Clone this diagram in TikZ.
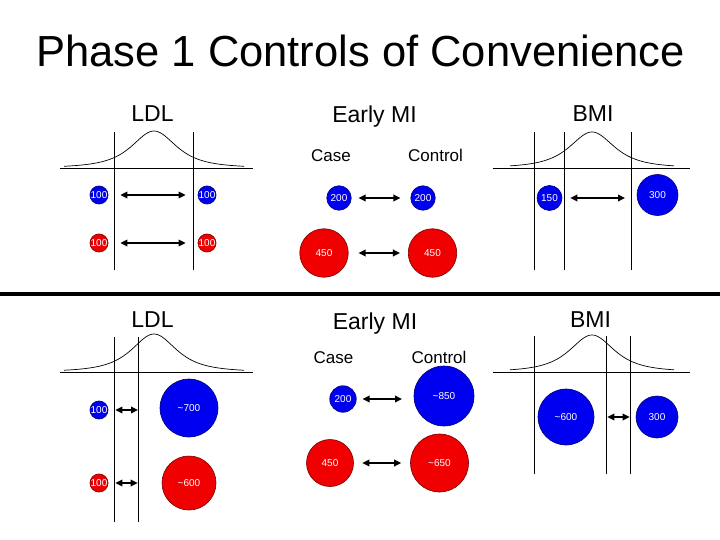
\documentclass[tikz,border=0pt]{standalone}
\usepackage{fontspec}
\setmainfont{Liberation Sans}
\usetikzlibrary{arrows.meta}
\definecolor{cblue}{RGB}{0,0,240}
\definecolor{cred}{RGB}{240,0,0}
\begin{document}
\begin{tikzpicture}[x=1pt,y=-1pt,
  bdot/.style={circle, draw=cblue!50!black, fill=cblue, line width=0.6pt, inner sep=0pt, minimum size=#1, text=white, font=\fontsize{10}{12}\selectfont},
  rdot/.style={circle, draw=cred!50!black, fill=cred, line width=0.6pt, inner sep=0pt, minimum size=#1, text=white, font=\fontsize{10}{12}\selectfont},
  dbl/.style={line width=1.8pt, {Triangle[length=7pt,width=6.5pt]}-{Triangle[length=7pt,width=6.5pt]}},
  guide/.style={line width=0.8pt},
  curve/.style={line width=0.7pt},
  ttl/.style={anchor=base, font=\fontsize{43.5}{50}\selectfont},
  hdr/.style={anchor=base, font=\fontsize{23}{28}\selectfont},
  sub/.style={anchor=base, font=\fontsize{17}{20}\selectfont}]
\useasboundingbox (0,0) rectangle (720,540);
\fill[white] (0,0) rectangle (720,540);

% title
\node[ttl] (title) at (360.5,67) {Phase 1 Controls of Convenience};

% separator
\draw[line width=4.3pt] (0,294) -- (720,294);

% ---------- top row ----------
\node[hdr] (hTL) at (152.5,122) {LDL};
\node[hdr] (hTM) at (374.5,123) {Early MI};
\node[hdr] (hTR) at (593,122) {BMI};
\node[sub] (sTMa) at (331,162) {Case};
\node[sub] (sTMb) at (435.5,162) {Control};

% top LDL curve
\draw[guide] (60,168) -- (253,168);
\draw[curve] plot[domain=-90:90, samples=91] ({154+\x},{168-37/(1+(\x/34.6)^2)^1.5});
\draw[guide] (114,132) -- (114,270);
\draw[guide] (193,132) -- (193,270);

% top BMI curve
\draw[guide] (493,168) -- (690,168);
\draw[curve] plot[domain=-82:82, samples=91] ({592+\x},{168-36/(1+(\x/34.6)^2)^1.5});
\draw[guide] (534,132) -- (534,270);
\draw[guide] (564,132) -- (564,270);
\draw[guide] (631,132) -- (631,270);

% top LDL dots
\node[bdot=18pt] (tl1) at (99,195) {100};
\node[bdot=18pt] (tl2) at (207,195) {100};
\node[rdot=18pt] (tl3) at (99,243) {100};
\node[rdot=18pt] (tl4) at (207,243) {100};
\draw[dbl, shorten <=12pt, shorten >=12pt] (tl1) -- (tl2);
\draw[dbl, shorten <=12pt, shorten >=12pt] (tl3) -- (tl4);

% top Early MI dots
\node[bdot=24.5pt] (tm1) at (339,198) {200};
\node[bdot=24.5pt] (tm2) at (423,198) {200};
\node[rdot=48.5pt] (tm3) at (324,253) {450};
\node[rdot=48.5pt] (tm4) at (432.5,253) {450};
\draw[dbl, shorten <=7pt, shorten >=10pt] (tm1) -- (tm2);
\draw[dbl, shorten <=10pt, shorten >=8pt] (tm3) -- (tm4);

% top BMI dots
\node[bdot=25pt] (tr1) at (549.5,198) {150};
\node[bdot=41pt] (tr2) at (657.5,195) {300};
\draw[dbl, shorten <=8pt, shorten >=32.5pt] (tr1) -- (tr1 -| tr2);

% ---------- bottom row ----------
\node[hdr] (hBL) at (152.5,327) {LDL};
\node[hdr] (hBM) at (375,329) {Early MI};
\node[hdr] (hBR) at (590.5,327) {BMI};
\node[sub] (sBMa) at (333.5,363) {Case};
\node[sub] (sBMb) at (439,363) {Control};

% bottom LDL curve
\draw[guide] (60,372) -- (253,372);
\draw[curve] plot[domain=-90:90, samples=91] ({154+\x},{372-38/(1+(\x/34.6)^2)^1.5});
\draw[guide] (114,337) -- (114,522);
\draw[guide] (138,337) -- (138,522);

% bottom BMI curve
\draw[guide] (493,372) -- (690,372);
\draw[curve] plot[domain=-82:82, samples=91] ({592+\x},{372-37/(1+(\x/34.6)^2)^1.5});
\draw[guide] (534,336) -- (534,474);
\draw[guide] (606,336) -- (606,474);
\draw[guide] (630,336) -- (630,474);

% bottom LDL dots
\node[bdot=18pt] (bl1) at (99,410) {100};
\node[bdot=58pt] (bl2) at (189,408) {\char"7E 700};
\node[rdot=18pt] (bl3) at (99,483) {100};
\node[rdot=54pt] (bl4) at (189,483) {\char"7E 600};
\draw[dbl, shorten <=7pt, shorten >=51pt] (bl1) -- (bl1 -| bl2);
\draw[dbl, shorten <=7pt, shorten >=24pt] (bl3) -- (bl4);

% bottom Early MI dots
\node[bdot=26.5pt] (bm1) at (343,399) {200};
\node[bdot=60pt] (bm2) at (444,396) {\char"7E 850};
\node[rdot=47pt] (bm3) at (330,463) {450};
\node[rdot=58pt] (bm4) at (439.5,463) {\char"7E 650};
\draw[dbl, shorten <=6pt, shorten >=42pt] (bm1) -- (bm1 -| bm2);
\draw[dbl, shorten <=8.5pt, shorten >=9pt] (bm3) -- (bm4);

% bottom BMI dots
\node[bdot=56pt] (br1) at (566,417) {\char"7E 600};
\node[bdot=42pt] (br2) at (657,417) {300};
\draw[dbl, shorten <=13pt, shorten >=6pt] (br1) -- (br2);
\end{tikzpicture}
\end{document}
